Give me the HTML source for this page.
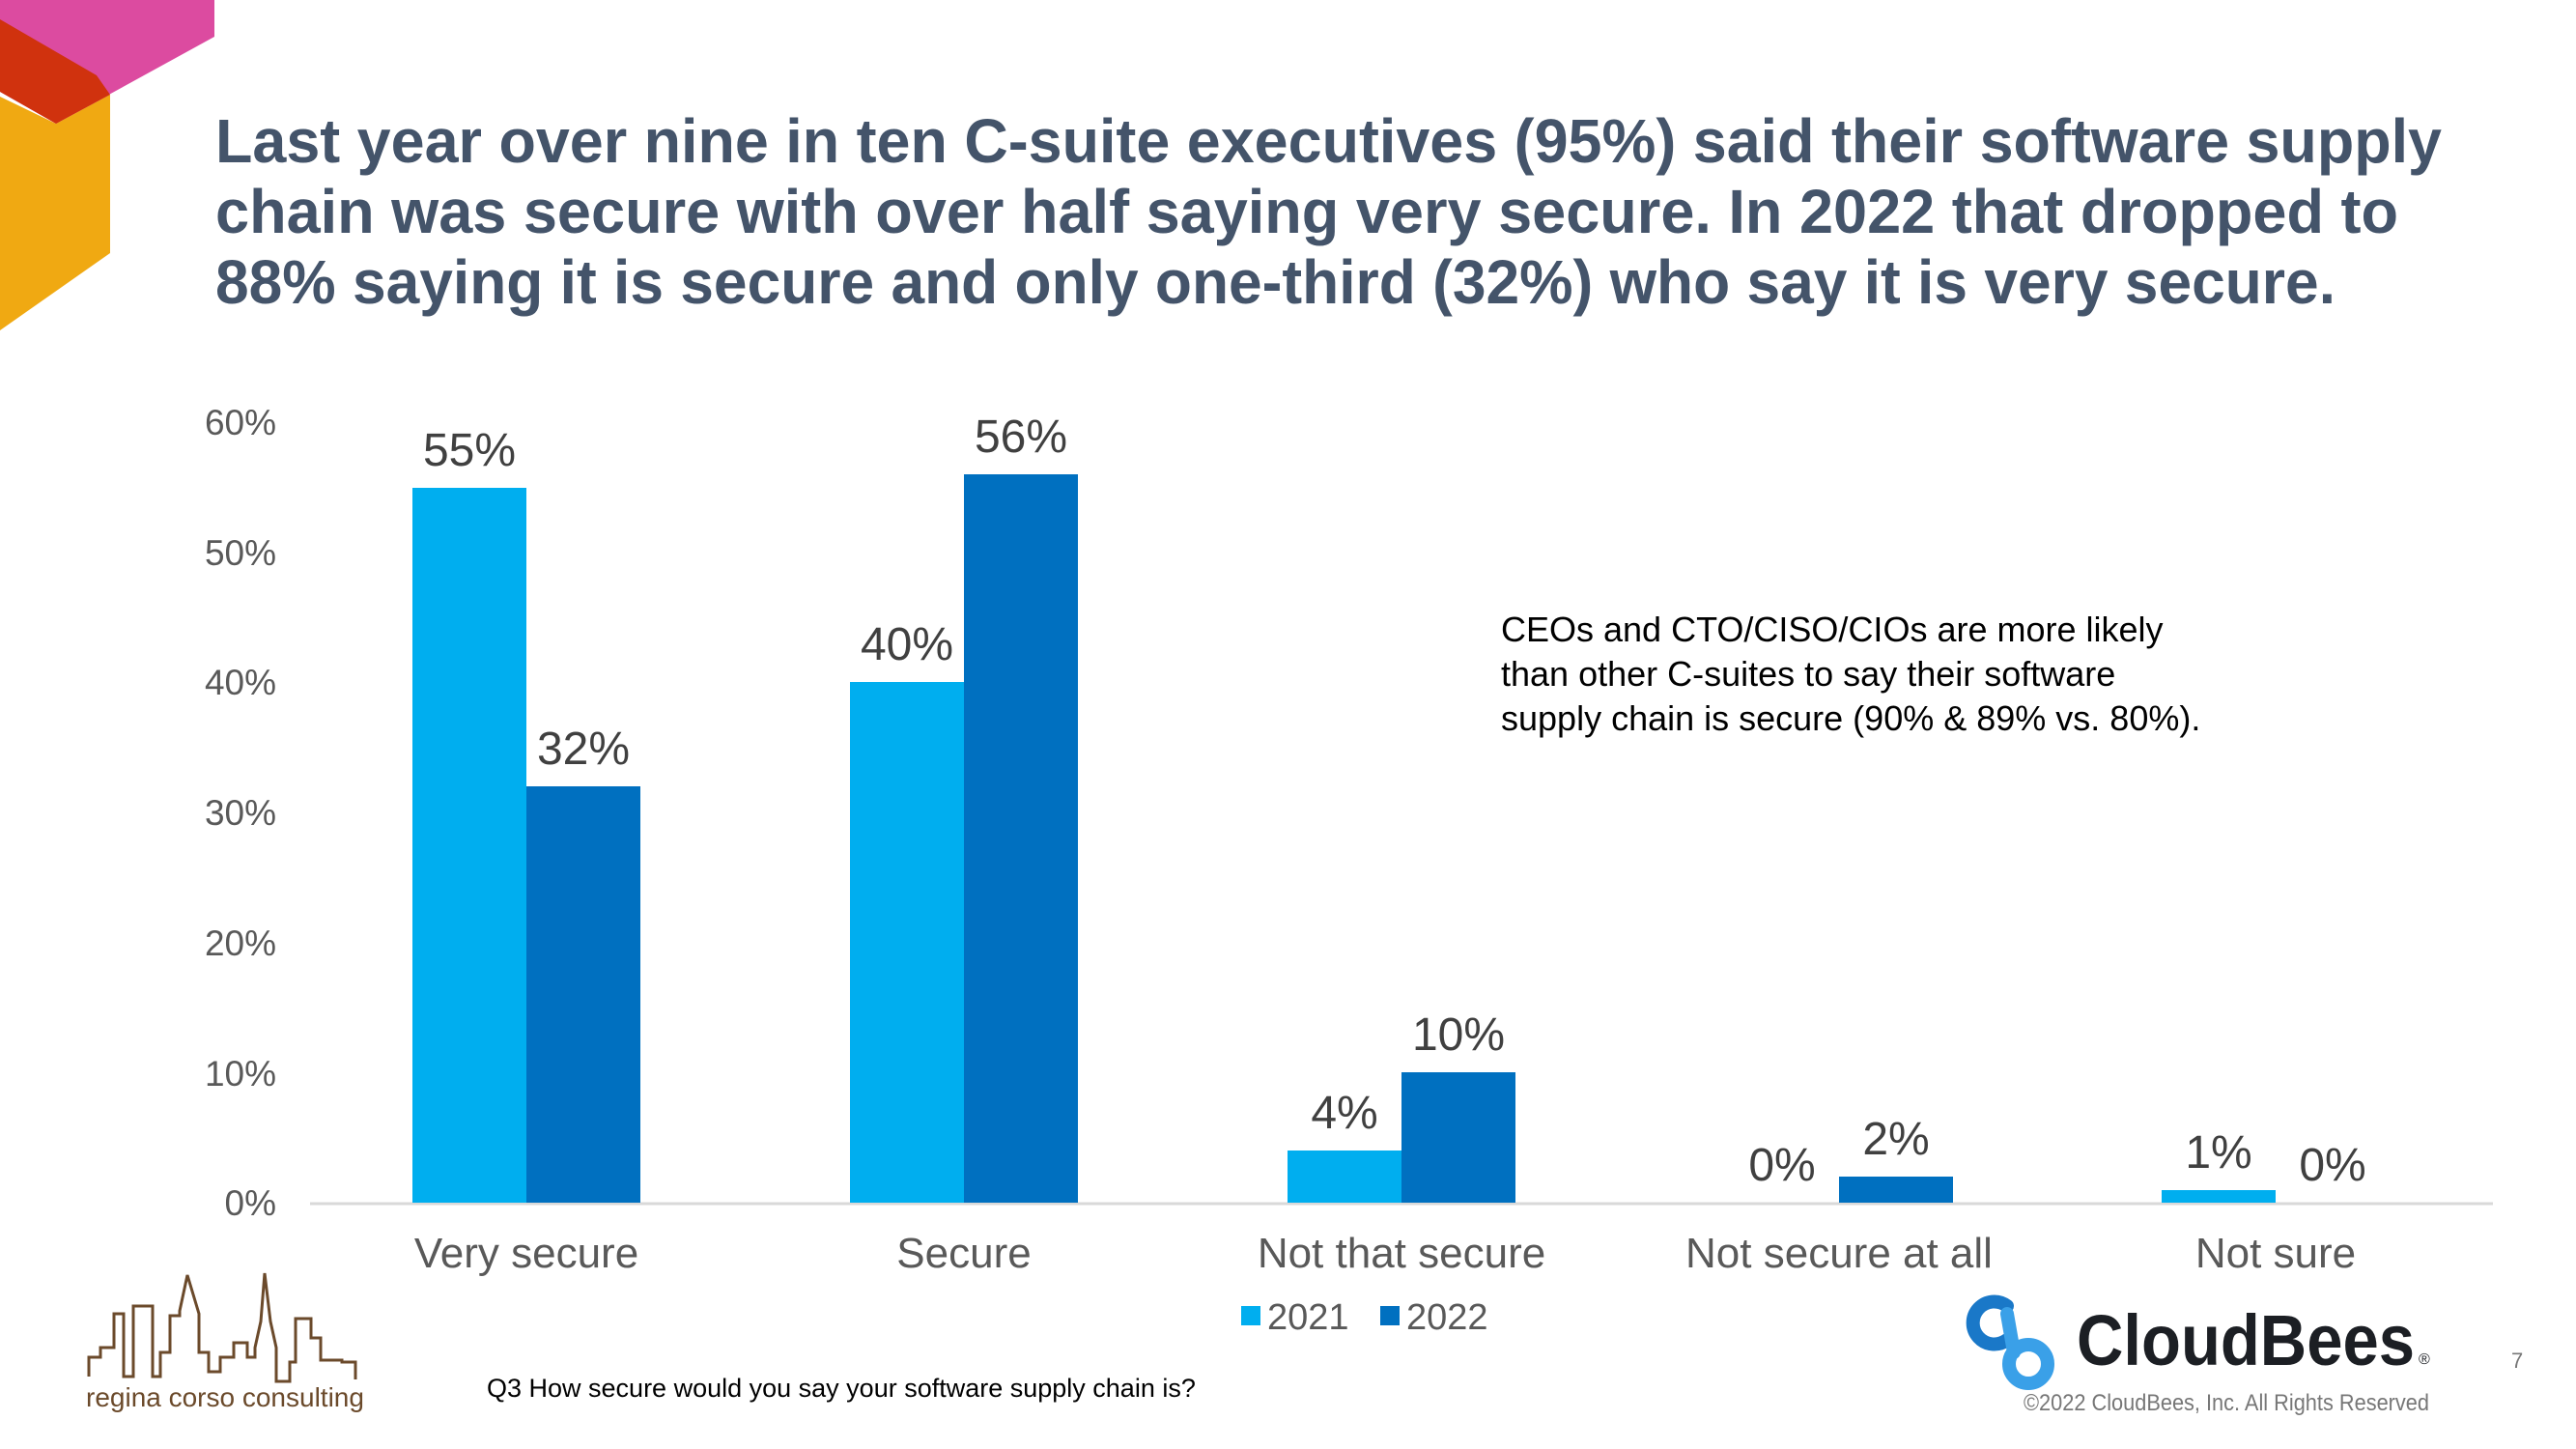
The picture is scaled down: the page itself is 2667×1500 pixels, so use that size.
<!DOCTYPE html>
<html><head><meta charset="utf-8"><style>html,body{margin:0;padding:0;background:#fff}svg{display:block}</style></head>
<body>
<svg width="2667" height="1500" viewBox="0 0 2667 1500" xmlns="http://www.w3.org/2000/svg" font-family="Liberation Sans, sans-serif">
<rect width="2667" height="1500" fill="#fff"/>
<!-- decor -->
<polygon points="0,100 58,128 114,98 114,262 0,342" fill="#f0a912"/>
<polygon points="0,0 222,0 222,38 58,128 0,95" fill="#dc4ba0"/>
<polygon points="0,20 100,78 114,98 58,128 0,95" fill="#d0320e"/>
<!-- title -->
<g font-weight="bold" font-size="64" fill="#44546a">
<text x="223" y="168" textLength="2305" lengthAdjust="spacingAndGlyphs">Last year over nine in ten C-suite executives (95%) said their software supply</text>
<text x="223" y="241" textLength="2260" lengthAdjust="spacingAndGlyphs">chain was secure with over half saying very secure. In 2022 that dropped to</text>
<text x="223" y="314" textLength="2195" lengthAdjust="spacingAndGlyphs">88% saying it is secure and only one-third (32%) who say it is very secure.</text>
</g>
<!-- y axis -->
<g font-size="37" fill="#595959" text-anchor="end">
<text x="286" y="1258">0%</text>
<text x="286" y="1124">10%</text>
<text x="286" y="989">20%</text>
<text x="286" y="854">30%</text>
<text x="286" y="719">40%</text>
<text x="286" y="585">50%</text>
<text x="286" y="450">60%</text>
</g>
<line x1="321" y1="1246" x2="2581" y2="1246" stroke="#d9d9d9" stroke-width="3"/>
<!-- bars: scale 134.7 px per 10% -->
<g>
<rect x="427" y="505" width="118" height="740" fill="#00aeef"/>
<rect x="545" y="814" width="118" height="431" fill="#0070c0"/>
<rect x="880" y="706" width="118" height="539" fill="#00aeef"/>
<rect x="998" y="491" width="118" height="754" fill="#0070c0"/>
<rect x="1333" y="1191" width="118" height="54" fill="#00aeef"/>
<rect x="1451" y="1110" width="118" height="135" fill="#0070c0"/>
<rect x="1904" y="1218" width="118" height="27" fill="#0070c0"/>
<rect x="2238" y="1232" width="118" height="13" fill="#00aeef"/>
</g>
<g font-size="48" fill="#404040" text-anchor="middle">
<text x="486" y="482">55%</text>
<text x="604" y="791">32%</text>
<text x="939" y="683">40%</text>
<text x="1057" y="468">56%</text>
<text x="1392" y="1168">4%</text>
<text x="1510" y="1087">10%</text>
<text x="1845" y="1222">0%</text>
<text x="1963" y="1195">2%</text>
<text x="2297" y="1209">1%</text>
<text x="2415" y="1222">0%</text>
</g>
<g font-size="44" fill="#595959" text-anchor="middle">
<text x="545" y="1312">Very secure</text>
<text x="998" y="1312">Secure</text>
<text x="1451" y="1312">Not that secure</text>
<text x="1904" y="1312">Not secure at all</text>
<text x="2356" y="1312">Not sure</text>
</g>
<!-- legend -->
<rect x="1285" y="1352" width="20" height="20" fill="#00aeef"/>
<text x="1312" y="1376" font-size="38" fill="#595959">2021</text>
<rect x="1429" y="1352" width="20" height="20" fill="#0070c0"/>
<text x="1456" y="1376" font-size="38" fill="#595959">2022</text>
<!-- annotation -->
<g font-size="36" fill="#000">
<text x="1554" y="664">CEOs and CTO/CISO/CIOs are more likely</text>
<text x="1554" y="710">than other C-suites to say their software</text>
<text x="1554" y="756">supply chain is secure (90% &amp; 89% vs. 80%).</text>
</g>
<text x="504" y="1446" font-size="27" fill="#000">Q3 How secure would you say your software supply chain is?</text>
<!-- regina logo -->
<polyline points="92,1425 92,1405 104,1405 104,1395 118,1395 118,1360 128,1360 128,1425 138,1425 138,1352 158,1352 158,1425 166,1425 166,1400 176,1400 176,1362 186,1362 186,1357 194,1320 206,1360 206,1400 216,1400 216,1420 228,1420 228,1405 242,1405 242,1390 256,1390 256,1405 264,1405 264,1395 270,1368 274,1318 280,1368 286,1395 286,1430 300,1430 300,1410 306,1410 306,1365 322,1365 322,1385 332,1385 332,1408 354,1408 354,1410 368,1410 368,1428" fill="none" stroke="#6b4a2b" stroke-width="3"/>
<text x="89" y="1456" font-size="28" fill="#6b4a2b">regina corso consulting</text>
<!-- cloudbees -->
<path d="M2078,1352 a22,22 0 1 0 0,35" fill="none" stroke="#1a78c8" stroke-width="14" stroke-linecap="round"/>
<path d="M2078,1360 L2085,1400" fill="none" stroke="#3aa0e8" stroke-width="14" stroke-linecap="round"/>
<circle cx="2100" cy="1412" r="20" fill="none" stroke="#3aa0e8" stroke-width="14"/>
<text x="2150" y="1413" font-size="74" font-weight="bold" fill="#1c1f24" textLength="350" lengthAdjust="spacingAndGlyphs">CloudBees</text>
<text x="2504" y="1412" font-size="16" fill="#1c1f24">®</text>
<text x="2095" y="1460" font-size="24" fill="#777" textLength="420" lengthAdjust="spacingAndGlyphs">©2022 CloudBees, Inc. All Rights Reserved</text>
<text x="2600" y="1416" font-size="22" fill="#777">7</text>
</svg>
</body></html>
